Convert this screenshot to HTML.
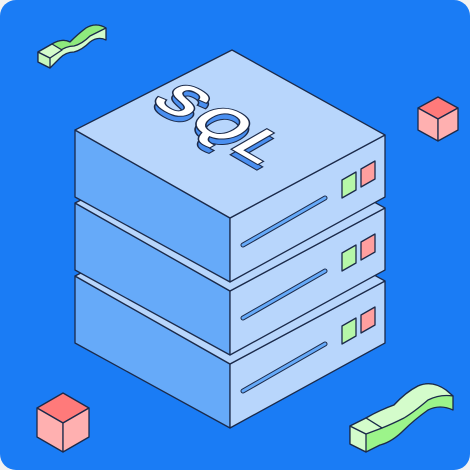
<!DOCTYPE html>
<html><head><style>
html,body{margin:0;padding:0;background:#f2f2f2;}
svg{display:block}
</style></head><body>
<svg width="470" height="470" viewBox="0 0 470 470" xmlns="http://www.w3.org/2000/svg">
<rect x="0" y="0" width="470" height="470" rx="16" fill="#1a7cf5"/>
<g stroke="#1b2a4a" stroke-width="1.3" stroke-linejoin="round">
<!-- top-left wave -->
<path d="M38,52 L52,44 Q62,38 70,42 Q78,34 86,28 Q96,22 106,28 L106,40 Q98,36 90,42 Q82,50 74,52 Q66,52 60,58 L50,68 L38,62 Z" fill="#d4fccb"/>
<path d="M52,44 Q62,38 70,42 Q78,34 86,28 Q96,22 106,28 Q98,32 90,36 Q82,44 74,46 Q66,46 58,52 Z" fill="#8fea7d"/>
<path d="M38,52 L50,58 L50,68 L38,62 Z" fill="#c6f7bb"/>
<path d="M38,52 L52,44 L62,50 L50,58 Z" fill="#d4fccb"/>
<!-- bottom-right wave -->
<path d="M350,426 L366,418 Q380,410 394,405 Q406,392 418,386 Q432,380 446,390 L453,396 L453,410 Q440,404 428,410 Q414,420 404,430 Q392,442 380,445 L366,452 L350,444 Z" fill="#9cf48a"/>
<path d="M366,418 Q380,410 394,405 Q406,392 418,386 Q432,380 446,390 L453,396 Q440,394 428,400 Q414,412 404,418 Q392,424 382,428 Z" fill="#d4fccb"/>
<path d="M350,426 L366,434 L366,452 L350,444 Z" fill="#d4fccb"/>
<path d="M350,426 L366,418 L382,428 L366,434 Z" fill="#d4fccb"/>
<!-- red cube top right -->
<path d="M438,97 L458,108 L438,119 L418,108 Z" fill="#ff7a7a"/>
<path d="M418,108 L438,119 L438,141 L418,130 Z" fill="#ffb0b0"/>
<path d="M438,119 L458,108 L458,130 L438,141 Z" fill="#ffb0b0"/>
<!-- red cube bottom left -->
<path d="M63,393 L89,408 L63,423 L37,408 Z" fill="#ff7a7a"/>
<path d="M37,408 L63,423 L63,452 L37,437 Z" fill="#ffb0b0"/>
<path d="M63,423 L89,408 L89,437 L63,452 Z" fill="#ffb0b0"/>
</g>

<defs>
<g id="srv" stroke="#1b2a4a" stroke-width="1.3" stroke-linejoin="round">
<path d="M75,130 L230,218 L230,282 L75,197 Z" fill="#66aaf9"/>
<path d="M230,218 L385,135 L385,197 L230,282 Z" fill="#b8d6fc"/>
<path d="M232,50 L385,135 L230,218 L75,130 Z" fill="#b8d6fc"/>
<path d="M243,245 L325,198" stroke="#1b2a4a" stroke-width="5" stroke-linecap="round"/>
<path d="M243,245 L325,198" stroke="#66aaf9" stroke-width="3" stroke-linecap="round"/>
<path d="M342,180 L356,172 L356,190 L342,198 Z" fill="#b6f7a8"/>
<path d="M361,169 L375,161 L375,179 L361,187 Z" fill="#ff9f9f"/>
</g>
</defs>
<use href="#srv" transform="translate(0,146)"/>
<use href="#srv" transform="translate(0,73)"/>
<use href="#srv"/>

<g transform="matrix(0.866,0.5,-0.866,0.5,222,124)" font-family="Liberation Sans, sans-serif" font-weight="bold" font-size="60" text-anchor="middle" letter-spacing="3">
<text x="5" y="26" fill="#4a8ff0" stroke="#1b2a4a" stroke-width="1.3">SQL</text>
<text x="0" y="20" fill="#ffffff" stroke="#1b2a4a" stroke-width="1.3">SQL</text>
</g>
</svg>
</body></html>
